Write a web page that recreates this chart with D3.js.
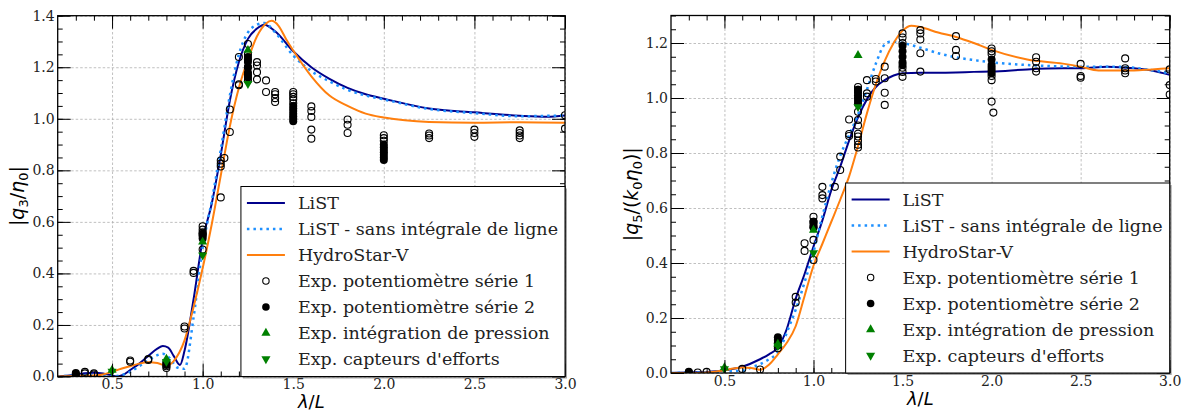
<!DOCTYPE html>
<html>
<head>
<meta charset="utf-8">
<script src="https://cdn.jsdelivr.net/npm/d3@7"></script>
<style>
  body { margin: 0; background: #fff; }
  svg { display: block; }
  .tick text { font-family: "DejaVu Serif", serif; font-size: 14px; fill: #222; }
  .legend text { font-family: "DejaVu Serif", serif; font-size: 17.5px; fill: #222; }
</style>
</head>
<body>
<div id="chart"></div>
<script>
// ---------- data : heave |q3/eta0| ----------
var listX3 = [0.2,0.25,0.3,0.35,0.4,0.45,0.5,0.53,0.56,0.6,0.65,0.7,0.75,0.78,0.81,0.84,0.875,0.9,0.95,1.0,1.05,1.1,1.15,1.2,1.25,1.3,1.34,1.4,1.5,1.6,1.7,1.8,1.9,2.0,2.25,2.5,2.75,2.9,3.0];
var listY3 = [0.0,0.003,0.008,0.013,0.015,0.012,0.004,0.0,0.006,0.025,0.05,0.08,0.108,0.118,0.112,0.08,0.045,0.1,0.3,0.53,0.67,0.86,1.07,1.22,1.31,1.35,1.365,1.34,1.262,1.2,1.155,1.12,1.095,1.078,1.04,1.025,1.012,1.008,1.013];
var noLineX3 = [0.2,0.3,0.4,0.5,0.55,0.6,0.65,0.7,0.75,0.78,0.82,0.86,0.9,0.95,1.0,1.05,1.1,1.15,1.2,1.25,1.3,1.34,1.4,1.5,1.6,1.7,1.8,1.9,2.0,2.25,2.5,2.75,3.0];
var noLineY3 = [0.0,0.004,0.006,0.0,0.005,0.018,0.04,0.062,0.083,0.088,0.07,0.035,0.03,0.23,0.5,0.68,0.88,1.09,1.25,1.335,1.365,1.372,1.335,1.245,1.185,1.145,1.112,1.09,1.075,1.038,1.022,1.01,1.013];
var hsX3 = [0.2,0.3,0.4,0.45,0.5,0.55,0.6,0.65,0.7,0.75,0.8,0.84,0.9,0.95,1.0,1.05,1.1,1.15,1.2,1.25,1.3,1.35,1.38,1.42,1.46,1.5,1.6,1.7,1.8,1.9,2.0,2.25,2.5,2.75,3.0];
var hsY3 = [0.0,0.002,0.004,0.008,0.018,0.03,0.04,0.05,0.055,0.052,0.042,0.06,0.14,0.27,0.42,0.59,0.78,0.97,1.12,1.23,1.32,1.37,1.38,1.36,1.31,1.265,1.165,1.09,1.05,1.02,1.005,0.988,0.985,0.987,0.985];

var exp1X3 = [0.35,0.35,0.4,0.4,0.6,0.6,0.7,0.7,0.8,0.8,0.8,0.9,0.9,0.95,0.95,
  1.0,1.0,1.0,1.0,1.0,1.1,1.1,1.1,1.12,1.1,1.15,1.15,1.2,1.2,1.2,
  1.25,1.25,1.25,1.25,1.25,1.25,1.3,1.3,1.3,1.3,1.35,1.35,1.4,1.4,1.4,1.4,
  1.5,1.5,1.5,1.5,1.5,1.6,1.6,1.6,1.6,1.6,1.8,1.8,1.8,2.0,2.0,2.0,
  2.25,2.25,2.25,2.5,2.5,2.5,2.75,2.75,2.75,2.75,3.0,3.0];
var exp1Y3 = [0.012,0.018,0.008,0.012,0.057,0.062,0.064,0.068,0.033,0.04,0.05,0.186,0.194,0.402,0.41,
  0.583,0.57,0.56,0.55,0.493,0.815,0.826,0.838,0.848,0.695,0.949,1.036,1.13,1.134,1.24,
  1.29,1.25,1.23,1.2,1.17,1.15,1.22,1.207,1.181,1.153,1.149,1.104,1.104,1.095,1.08,1.065,
  1.104,1.095,1.085,1.075,1.06,1.048,1.03,1.007,0.958,0.923,0.997,0.977,0.945,0.936,0.925,0.915,
  0.943,0.935,0.925,0.958,0.945,0.93,0.955,0.945,0.935,0.925,1.014,0.962];
var exp2X3 = [0.3,0.3,0.3,0.8,0.8,1.0,1.0,1.0,1.25,1.25,1.25,1.25,1.25,1.5,1.5,1.5,1.5,1.5,1.5,1.5,2.0,2.0,2.0,2.0,2.0,2.0,2.0];
var exp2Y3 = [0.006,0.01,0.014,0.045,0.055,0.535,0.545,0.555,1.24,1.22,1.2,1.18,1.16,1.05,1.04,1.03,1.02,1.01,1.0,0.99,0.9,0.89,0.88,0.87,0.86,0.85,0.84];
var pressX3 = [0.5,0.8,1.0,1.25];
var pressY3 = [0.025,0.068,0.522,1.266];
var forceX3 = [0.5,0.8,1.0,1.25];
var forceY3 = [0.02,0.058,0.471,1.136];

// ---------- data : pitch |q5/(k0 eta0)| ----------
var listX5 = [0.2,0.3,0.4,0.5,0.6,0.7,0.75,0.8,0.85,0.9,0.95,1.0,1.05,1.1,1.15,1.2,1.25,1.3,1.35,1.4,1.45,1.5,1.6,1.7,1.8,1.9,2.0,2.2,2.4,2.5,2.65,2.8,2.9,3.0];
var listY5 = [0.0,0.002,0.004,0.01,0.023,0.05,0.068,0.092,0.16,0.27,0.36,0.46,0.555,0.665,0.75,0.845,0.93,0.995,1.04,1.065,1.082,1.09,1.092,1.092,1.093,1.095,1.096,1.104,1.108,1.108,1.114,1.108,1.1,1.084];
var noLineX5 = [0.2,0.3,0.4,0.5,0.6,0.65,0.7,0.75,0.8,0.87,0.9,0.95,1.0,1.05,1.1,1.15,1.2,1.25,1.3,1.35,1.4,1.43,1.5,1.6,1.7,1.8,1.9,2.0,2.2,2.5,2.7,2.87,3.0];
var noLineY5 = [0.0,0.001,0.002,0.006,0.008,0.02,0.032,0.05,0.075,0.18,0.23,0.33,0.44,0.57,0.69,0.79,0.865,0.94,1.03,1.125,1.195,1.205,1.2,1.183,1.163,1.148,1.138,1.13,1.12,1.114,1.114,1.104,1.09];
var hsX5 = [0.2,0.3,0.4,0.5,0.55,0.6,0.65,0.7,0.75,0.8,0.85,0.9,0.95,1.0,1.05,1.1,1.15,1.2,1.25,1.3,1.35,1.4,1.45,1.5,1.55,1.6,1.7,1.8,1.9,2.0,2.2,2.4,2.5,2.6,2.7,2.8,2.9,3.0];
var hsY5 = [0.0,0.0,0.002,0.01,0.016,0.02,0.018,0.012,0.03,0.068,0.11,0.17,0.28,0.39,0.47,0.55,0.63,0.715,0.825,0.944,1.05,1.135,1.2,1.245,1.263,1.258,1.238,1.222,1.2,1.175,1.14,1.125,1.114,1.1,1.1,1.1,1.104,1.108];

var exp1X5 = [0.35,0.4,0.6,0.7,0.8,0.9,0.9,0.95,0.95,1.0,1.0,1.0,1.0,1.0,1.05,1.05,1.05,1.12,1.15,1.15,1.2,1.2,1.2,
  1.25,1.25,1.25,1.25,1.25,1.25,1.25,1.25,1.25,1.25,1.25,1.25,1.3,1.3,1.3,1.35,1.35,1.4,1.4,1.4,1.4,
  1.5,1.5,1.5,1.5,1.5,1.5,1.6,1.6,1.6,1.6,1.6,1.8,1.8,1.8,2.0,2.0,2.0,2.0,2.0,2.0,2.01,
  2.25,2.25,2.25,2.25,2.5,2.5,2.5,2.75,2.75,2.75,2.75,3.0,3.0,3.0];
var exp1Y5 = [0.002,0.004,0.015,0.013,0.09,0.277,0.256,0.472,0.444,0.568,0.55,0.53,0.484,0.411,0.677,0.647,0.635,0.677,0.787,0.738,0.922,0.869,0.862,
  1.04,1.03,1.02,1.0,0.95,0.92,0.9,0.87,0.86,0.845,0.83,0.82,1.065,1.017,1.005,1.069,1.06,1.114,1.072,1.019,0.975,
  1.235,1.22,1.2,1.11,1.095,1.077,1.247,1.235,1.213,1.163,1.096,1.225,1.175,1.153,1.18,1.17,1.16,1.08,1.065,0.987,0.947,
  1.148,1.132,1.108,1.096,1.124,1.08,1.074,1.144,1.108,1.1,1.09,1.104,1.047,1.013];
var exp2X5 = [0.3,0.3,0.8,0.8,0.8,0.8,1.0,1.0,1.0,1.25,1.25,1.25,1.25,1.5,1.5,1.5,1.5,1.5,2.0,2.0,2.0,2.0,2.0];
var exp2Y5 = [0.003,0.005,0.1,0.11,0.12,0.13,0.53,0.54,0.55,1.03,1.01,0.99,0.98,1.19,1.17,1.15,1.13,1.12,1.14,1.12,1.11,1.1,1.09];
var pressX5 = [0.5,0.8,1.0,1.25];
var pressY5 = [0.02,0.105,0.52,1.155];
var forceX5 = [0.5,0.8,1.0,1.25];
var forceY5 = [0.015,0.098,0.437,0.968];

var xTicks = [0.5,1.0,1.5,2.0,2.5,3.0];
var yTicks3 = [0.0,0.2,0.4,0.6,0.8,1.0,1.2,1.4];
var yTicks5 = [0.0,0.2,0.4,0.6,0.8,1.0,1.2];

var legendLabels = [
  "LiST",
  "LiST - sans intégrale de ligne",
  "HydroStar-V",
  "Exp. potentiomètre série 1",
  "Exp. potentiomètre série 2",
  "Exp. intégration de pression",
  "Exp. capteurs d'efforts"
];

var C_LIST = "#00008b", C_NOLINE = "#1e90ff", C_HS = "#ff7f0e", C_EXP = "green";

var W = 1188, H = 415;
var svg = d3.select("#chart").append("svg").attr("width", W).attr("height", H);

var zip = function(xs, ys){ return xs.map(function(x, i){ return [x, ys[i]]; }); };

var drawPanel = function(cfg){
  var x = d3.scaleLinear().domain([0.2, 3.0]).range([cfg.left, cfg.right]);
  var y = d3.scaleLinear().domain([0, cfg.ymax]).range([cfg.bottom, cfg.top]);
  var g = svg.append("g");
  var pw = cfg.right - cfg.left, ph = cfg.bottom - cfg.top;

  // grid (dashed, at major ticks)
  g.append("g").attr("transform", "translate(0," + cfg.bottom + ")")
    .call(d3.axisBottom(x).tickValues(xTicks).tickSize(-ph).tickFormat(""))
    .call(function(s){ s.select(".domain").remove(); })
    .selectAll("line").attr("stroke", "#b0b0b0").attr("stroke-width", 0.8).attr("stroke-dasharray", "2.5,2");
  g.append("g").attr("transform", "translate(" + cfg.left + ",0)")
    .call(d3.axisLeft(y).tickValues(cfg.yTicks).tickSize(-pw).tickFormat(""))
    .call(function(s){ s.select(".domain").remove(); })
    .selectAll("line").attr("stroke", "#b0b0b0").attr("stroke-width", 0.8).attr("stroke-dasharray", "2.5,2");

  // data, clipped to axes
  var clipId = "clip-" + cfg.id;
  svg.append("clipPath").attr("id", clipId).append("rect")
    .attr("x", cfg.left).attr("y", cfg.top).attr("width", pw).attr("height", ph);
  var plot = g.append("g").attr("clip-path", "url(#" + clipId + ")");

  var line = d3.line().x(function(d){ return x(d[0]); }).y(function(d){ return y(d[1]); })
    .curve(d3.curveMonotoneX);

  plot.append("path").datum(zip(cfg.listX, cfg.listY)).attr("d", line)
    .attr("fill", "none").attr("stroke", C_LIST).attr("stroke-width", 2);
  plot.append("path").datum(zip(cfg.noLineX, cfg.noLineY)).attr("d", line)
    .attr("fill", "none").attr("stroke", C_NOLINE).attr("stroke-width", 2.5).attr("stroke-dasharray", "2.5,4");
  plot.append("path").datum(zip(cfg.hsX, cfg.hsY)).attr("d", line)
    .attr("fill", "none").attr("stroke", C_HS).attr("stroke-width", 2);

  plot.selectAll("circle.e1").data(zip(cfg.e1X, cfg.e1Y)).enter().append("circle")
    .attr("cx", function(d){ return x(d[0]); }).attr("cy", function(d){ return y(d[1]); })
    .attr("r", 3.5).attr("fill", "none").attr("stroke", "#000").attr("stroke-width", 1.1);
  plot.selectAll("circle.e2").data(zip(cfg.e2X, cfg.e2Y)).enter().append("circle")
    .attr("cx", function(d){ return x(d[0]); }).attr("cy", function(d){ return y(d[1]); })
    .attr("r", 4).attr("fill", "#000");
  var tri = d3.symbol().type(d3.symbolTriangle).size(36);
  plot.selectAll("path.up").data(zip(cfg.pX, cfg.pY)).enter().append("path")
    .attr("d", tri).attr("fill", C_EXP)
    .attr("transform", function(d){ return "translate(" + x(d[0]) + "," + y(d[1]) + ")"; });
  plot.selectAll("path.dn").data(zip(cfg.fX, cfg.fY)).enter().append("path")
    .attr("d", tri).attr("fill", C_EXP)
    .attr("transform", function(d){ return "translate(" + x(d[0]) + "," + y(d[1]) + ") rotate(180)"; });

  // axes, ticks inward on all four sides
  var minorX = d3.range(3, 31).map(function(v){ return v / 10; });
  var minorY = d3.range(0, Math.round(cfg.ymax * 20) + 1).map(function(v){ return v / 20; });
  var fmt = d3.format(".1f");
  var tickStyle = function(s){
    s.select(".domain").remove();
    s.selectAll("line").attr("stroke", "#000").attr("stroke-width", 1);
  };
  g.append("g").attr("transform", "translate(0," + cfg.bottom + ")")
    .call(d3.axisBottom(x).tickValues(minorX).tickSize(-5).tickFormat("")).call(tickStyle);
  g.append("g").attr("transform", "translate(0," + cfg.top + ")")
    .call(d3.axisTop(x).tickValues(minorX).tickSize(-5).tickFormat("")).call(tickStyle);
  g.append("g").attr("transform", "translate(" + cfg.left + ",0)")
    .call(d3.axisLeft(y).tickValues(minorY).tickSize(-5).tickFormat("")).call(tickStyle);
  g.append("g").attr("transform", "translate(" + cfg.right + ",0)")
    .call(d3.axisRight(y).tickValues(minorY).tickSize(-5).tickFormat("")).call(tickStyle);

  g.append("g").attr("transform", "translate(0," + cfg.bottom + ")")
    .call(d3.axisBottom(x).tickValues(xTicks).tickSize(-13).tickPadding(3).tickFormat(fmt)).call(tickStyle);
  g.append("g").attr("transform", "translate(0," + cfg.top + ")")
    .call(d3.axisTop(x).tickValues(xTicks).tickSize(-13).tickFormat("")).call(tickStyle);
  g.append("g").attr("transform", "translate(" + cfg.left + ",0)")
    .call(d3.axisLeft(y).tickValues(cfg.yTicks).tickSize(-13).tickPadding(3).tickFormat(fmt)).call(tickStyle);
  g.append("g").attr("transform", "translate(" + cfg.right + ",0)")
    .call(d3.axisRight(y).tickValues(cfg.yTicks).tickSize(-13).tickFormat("")).call(tickStyle);
  g.selectAll(".tick text").attr("fill", "#222");

  g.append("rect").attr("x", cfg.left).attr("y", cfg.top).attr("width", pw).attr("height", ph)
    .attr("fill", "none").attr("stroke", "#000").attr("stroke-width", 1.3);

  // axis labels (mathtext look)
  var xl = g.append("text").attr("x", (cfg.left + cfg.right) / 2).attr("y", cfg.bottom + 31.5)
    .attr("text-anchor", "middle").style("font-family", "DejaVu Sans").style("font-size", "18px");
  xl.append("tspan").style("font-style", "italic").text("λ");
  xl.append("tspan").text("/");
  xl.append("tspan").style("font-style", "italic").text("L");

  var yl = g.append("text").attr("text-anchor", "middle")
    .attr("transform", "translate(" + cfg.ylabelX + "," + ((cfg.top + cfg.bottom) / 2) + ") rotate(-90)")
    .style("font-family", "DejaVu Sans").style("font-size", "19px");
  cfg.ylabel.forEach(function(p){
    var t = yl.append("tspan").text(p.t);
    if (p.i) t.style("font-style", "italic");
    if (p.sub) t.attr("dy", 4).style("font-size", "13px");
    if (p.back) t.attr("dy", -4);
  });

  // legend, lower right
  var lg = g.append("g").attr("class", "legend");
  var shadow = lg.append("rect");
  var box = lg.append("rect");
  var rowH = 26, boxH = 190;
  var top = cfg.bottom - boxH;
  var maxLen = 0;
  var texts = legendLabels.map(function(lab, i){
    var t = lg.append("text").attr("y", top + 16.5 + i * rowH).attr("dy", "0.35em").text(lab);
    maxLen = Math.max(maxLen, t.node().getComputedTextLength());
    return t;
  });
  var boxW = 57 + maxLen + 7;
  var bx = cfg.right - boxW;
  shadow.attr("x", bx + 2).attr("y", top + 2).attr("width", boxW).attr("height", boxH)
    .attr("fill", "#4d4d4d").attr("opacity", 0.5);
  box.attr("x", bx).attr("y", top).attr("width", boxW).attr("height", boxH)
    .attr("fill", "#fff").attr("stroke", "#000").attr("stroke-width", 1);
  texts.forEach(function(t){ t.attr("x", bx + 57); });
  var mx = bx + 25, l0 = bx + 6, l1 = bx + 44;
  var ry = function(i){ return top + 16.5 + i * rowH; };
  lg.append("line").attr("x1", l0).attr("x2", l1).attr("y1", ry(0)).attr("y2", ry(0))
    .attr("stroke", C_LIST).attr("stroke-width", 2);
  lg.append("line").attr("x1", l0).attr("x2", l1).attr("y1", ry(1)).attr("y2", ry(1))
    .attr("stroke", C_NOLINE).attr("stroke-width", 2.5).attr("stroke-dasharray", "2.5,4");
  lg.append("line").attr("x1", l0).attr("x2", l1).attr("y1", ry(2)).attr("y2", ry(2))
    .attr("stroke", C_HS).attr("stroke-width", 2);
  lg.append("circle").attr("cx", mx).attr("cy", ry(3)).attr("r", 3.2)
    .attr("fill", "none").attr("stroke", "#000").attr("stroke-width", 1.1);
  lg.append("circle").attr("cx", mx).attr("cy", ry(4)).attr("r", 3.8).attr("fill", "#000");
  lg.append("path").attr("d", tri).attr("fill", C_EXP)
    .attr("transform", "translate(" + mx + "," + ry(5) + ")");
  lg.append("path").attr("d", tri).attr("fill", C_EXP)
    .attr("transform", "translate(" + mx + "," + ry(6) + ") rotate(180)");
};

drawPanel({
  id: "q3", left: 57.7, right: 565, top: 15.7, bottom: 376.5, ymax: 1.4, yTicks: yTicks3, ylabelX: 24,
  listX: listX3, listY: listY3, noLineX: noLineX3, noLineY: noLineY3, hsX: hsX3, hsY: hsY3,
  e1X: exp1X3, e1Y: exp1Y3, e2X: exp2X3, e2Y: exp2Y3, pX: pressX3, pY: pressY3, fX: forceX3, fY: forceY3,
  ylabel: [{t:"|"},{t:"q",i:true},{t:"3",sub:true},{t:"/",back:true},{t:"η",i:true},{t:"0",sub:true},{t:"|",back:true}]
});

drawPanel({
  id: "q5", left: 671, right: 1169.7, top: 15.5, bottom: 373, ymax: 1.3, yTicks: yTicks5, ylabelX: 638,
  listX: listX5, listY: listY5, noLineX: noLineX5, noLineY: noLineY5, hsX: hsX5, hsY: hsY5,
  e1X: exp1X5, e1Y: exp1Y5, e2X: exp2X5, e2Y: exp2Y5, pX: pressX5, pY: pressY5, fX: forceX5, fY: forceY5,
  ylabel: [{t:"|"},{t:"q",i:true},{t:"5",sub:true},{t:"/(",back:true},{t:"k",i:true},{t:"0",sub:true},{t:"η",i:true,back:true},{t:"0",sub:true},{t:")|",back:true}]
});
</script>
</body>
</html>
